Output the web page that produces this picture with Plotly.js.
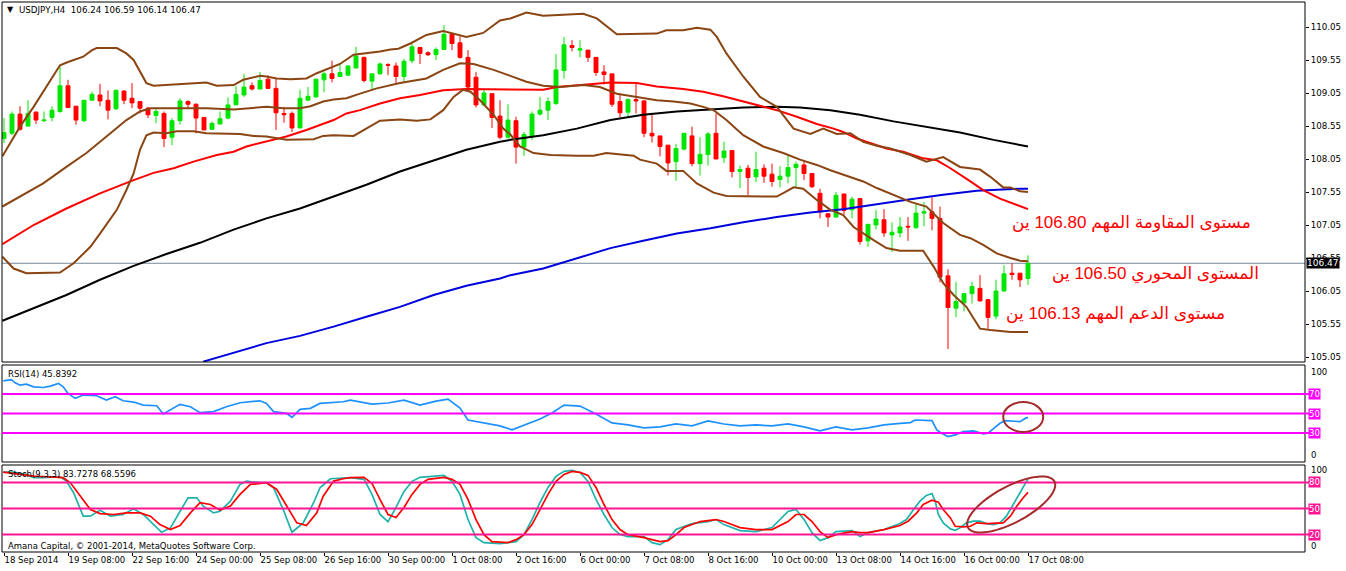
<!DOCTYPE html>
<html>
<head>
<meta charset="utf-8">
<script src="https://cdn.plot.ly/plotly-3.0.1.min.js"></script>
<style>
html,body{margin:0;padding:0;background:#fff;}
#chart{width:1346px;height:571px;}
</style>
</head>
<body>
<div id="chart"></div>
<script>
// ---------------- DATA ----------------
const xLabels = ['18 Sep 2014','19 Sep 08:00','22 Sep 16:00','24 Sep 00:00','25 Sep 08:00','26 Sep 16:00','30 Sep 00:00','1 Oct 08:00','2 Oct 16:00','6 Oct 00:00','7 Oct 08:00','8 Oct 16:00','10 Oct 00:00','13 Oct 08:00','14 Oct 16:00','16 Oct 00:00','17 Oct 08:00'];
const xLabelBars = [0,8,16,24,32,40,48,56,64,72,80,88,96,104,112,120,128];

const open = [108.36,108.44,108.73,108.55,108.76,108.63,108.68,108.77,109.16,108.85,108.63,108.94,109.02,108.94,108.81,109.08,108.97,108.92,108.82,108.71,
108.74,108.38,108.63,108.92,108.88,108.68,108.50,108.58,108.67,108.87,109.02,109.16,109.11,109.26,109.12,108.74,108.74,108.52,108.94,108.99,
109.25,109.34,109.30,109.32,109.43,109.59,109.23,109.34,109.48,109.46,109.30,109.54,109.74,109.66,109.63,109.71,109.94,109.81,109.59,109.29,
108.87,109.04,108.70,108.38,108.63,108.23,108.39,108.73,108.79,108.89,109.39,109.77,109.70,109.70,109.59,109.37,109.34,108.92,108.76,108.95,
108.93,108.44,108.40,108.26,108.01,108.20,108.40,107.98,108.12,108.44,108.07,108.18,107.86,107.91,107.78,107.91,107.82,107.74,107.79,107.92,
107.96,107.83,107.53,107.22,107.17,107.52,107.28,107.45,106.81,107.05,107.13,106.90,106.93,107.03,107.01,107.23,107.25,107.15,106.28,105.79,
105.87,106.01,106.09,105.92,105.67,106.05,106.32,106.32,106.24];
const high = [108.67,108.77,108.85,108.94,108.77,108.77,108.85,109.45,109.25,108.85,108.94,109.07,109.19,109.09,109.10,109.09,109.20,108.92,108.84,108.83,
108.77,108.67,108.97,108.94,108.89,108.68,108.62,108.77,108.98,109.16,109.34,109.21,109.37,109.32,109.27,108.84,108.77,109.10,109.14,109.26,
109.37,109.54,109.49,109.47,109.75,109.60,109.35,109.51,109.50,109.51,109.57,109.81,109.75,109.68,109.74,110.08,109.96,109.91,109.70,109.37,
109.10,109.04,108.94,108.88,108.69,108.46,108.77,108.99,108.98,109.64,109.90,109.85,109.85,109.70,109.59,109.47,109.34,109.04,108.97,109.19,
108.94,108.75,108.40,108.26,108.28,108.44,108.54,108.38,108.46,108.74,108.31,108.18,107.95,107.96,108.16,107.97,107.98,107.94,108.11,108.01,
108.01,107.83,107.60,107.23,107.55,107.52,107.48,107.45,107.06,107.28,107.29,107.09,107.17,107.17,107.38,107.40,107.47,107.33,106.38,106.19,
106.01,106.19,106.29,105.92,106.22,106.44,106.47,106.32,106.59];
const low = [108.29,108.41,108.48,108.54,108.58,108.61,108.62,108.75,108.82,108.57,108.61,108.94,108.85,108.65,108.79,108.88,108.82,108.74,108.67,108.59,
108.23,108.26,108.57,108.82,108.44,108.49,108.49,108.58,108.65,108.87,108.99,109.09,109.10,109.11,108.49,108.60,108.46,108.52,108.94,108.98,
109.06,109.21,109.30,109.31,109.42,109.21,109.11,109.33,109.32,109.20,109.22,109.50,109.49,109.61,109.55,109.70,109.70,109.57,109.11,108.83,
108.85,108.52,108.35,108.36,107.98,108.10,108.34,108.71,108.64,108.87,109.27,109.68,109.59,109.52,109.31,109.18,108.84,108.68,108.68,108.74,
108.38,108.30,108.09,107.80,107.72,108.18,107.94,107.80,107.95,108.05,107.99,107.77,107.61,107.50,107.70,107.69,107.63,107.62,107.68,107.62,
107.73,107.61,107.15,107.02,107.16,107.21,107.15,106.75,106.72,106.98,106.87,106.64,106.86,106.81,106.99,107.03,106.97,106.18,105.17,105.65,
105.74,105.86,105.89,105.48,105.62,106.04,106.22,106.11,106.14];
const close = [108.45,108.73,108.50,108.74,108.64,108.64,108.79,109.16,108.83,108.64,108.94,109.03,108.93,108.79,109.09,108.94,108.90,108.82,108.72,108.77,
108.36,108.63,108.93,108.88,108.67,108.49,108.59,108.66,108.87,109.03,109.14,109.11,109.24,109.12,108.75,108.72,108.52,108.97,109.00,109.26,
109.34,109.27,109.36,109.46,109.61,109.24,109.34,109.49,109.47,109.30,109.53,109.75,109.65,109.63,109.71,109.94,109.80,109.59,109.14,108.87,
109.05,108.68,108.38,108.64,108.23,108.42,108.73,108.79,108.92,109.40,109.78,109.74,109.72,109.59,109.36,109.33,108.88,108.75,108.95,108.93,
108.44,108.40,108.24,107.99,108.21,108.44,107.98,108.12,108.43,108.05,108.17,107.86,107.89,107.77,107.89,107.79,107.71,107.79,107.92,107.97,
107.83,107.63,107.25,107.17,107.50,107.27,107.44,106.80,107.06,107.14,106.93,106.94,107.02,107.02,107.23,107.25,107.15,106.26,105.80,105.89,
106.01,106.12,105.90,105.65,106.05,106.31,106.30,106.22,106.47];

// Bollinger bands [bar, price]
const bbUpper = [[-0.2,108.09],[2,108.54],[3.7,108.84],[5.8,109.25],[7,109.47],[8,109.52],[9.9,109.60],[11,109.70],[11.6,109.73],[14.1,109.73],[15.3,109.65],[16.2,109.55],[17.8,109.20],[18.7,109.16],[20.3,109.17],[22.4,109.19],[25.3,109.21],[26.6,109.16],[28.7,109.17],[29.9,109.25],[32,109.31],[32.8,109.30],[34.1,109.27],[35.8,109.26],[37.8,109.27],[39.1,109.35],[40.3,109.41],[42,109.49],[43.7,109.63],[45.3,109.65],[47,109.68],[48.3,109.71],[49.3,109.72],[50.8,109.80],[52.8,109.93],[54.9,109.99],[56.2,109.95],[57.8,109.90],[59.9,109.96],[62,110.15],[63.3,110.18],[65.3,110.27],[67.4,110.22],[69.9,110.24],[72.4,110.25],[74.1,110.18],[76.6,109.94],[81.6,109.95],[82.8,110.00],[84.9,110.00],[86.6,110.04],[88.3,110.01],[89.1,109.90],[90.3,109.65],[92.4,109.30],[94.5,108.99],[96.6,108.84],[98.7,108.51],[100.8,108.43],[102.4,108.51],[104.1,108.43],[105.8,108.44],[107.4,108.31],[109.1,108.25],[110.8,108.21],[113.3,108.11],[115.3,108.01],[117.4,108.08],[119.5,107.93],[122,107.89],[123.3,107.78],[124.9,107.62],[125.8,107.62],[127,107.56],[128,107.55]];
const bbMiddle = [[-0.2,107.33],[2,107.48],[4.9,107.68],[7.8,107.93],[10.3,108.14],[13.3,108.44],[15.3,108.64],[17,108.77],[18.3,108.82],[22.8,108.82],[25.3,108.82],[28.7,108.80],[31.2,108.83],[32.8,108.84],[34.9,108.82],[37,108.82],[38.3,108.85],[39.9,108.92],[41.2,108.95],[42.8,108.97],[44.5,109.04],[46.6,109.12],[49.5,109.20],[52.8,109.27],[54.9,109.40],[57,109.50],[58.7,109.49],[61.2,109.40],[63.3,109.31],[65.3,109.22],[67.4,109.16],[69.5,109.14],[72.4,109.17],[74.5,109.14],[76.6,109.04],[79.1,108.99],[81.6,108.94],[83.7,108.92],[85.8,108.89],[87.4,108.84],[88.7,108.79],[90.3,108.64],[92.4,108.41],[94.9,108.24],[97.4,108.14],[99.5,108.04],[101.6,107.96],[103.3,107.88],[104.9,107.81],[107.4,107.71],[109.1,107.61],[111.6,107.48],[113.3,107.40],[115.3,107.33],[117.4,107.08],[119.5,106.90],[120.8,106.85],[122.4,106.75],[124.1,106.62],[125.8,106.55],[127,106.51],[128,106.50]];
const bbLower = [[-0.2,106.57],[1.2,106.39],[2.8,106.32],[7,106.33],[8.7,106.47],[10.8,106.72],[12,106.92],[14.1,107.28],[15.3,107.58],[16.2,107.83],[17,108.19],[17.8,108.41],[18.7,108.45],[20.3,108.44],[21.6,108.47],[23.7,108.47],[25.3,108.44],[29.5,108.43],[31.2,108.40],[32.8,108.39],[35.3,108.34],[38.7,108.35],[39.9,108.40],[41.2,108.41],[43.7,108.40],[45.3,108.51],[47,108.63],[49.5,108.65],[51.6,108.63],[53.3,108.65],[54.9,108.79],[56.2,108.99],[57.4,109.10],[58.3,109.07],[59.5,108.94],[61.2,108.72],[62.4,108.51],[63.3,108.42],[64.5,108.24],[66.2,108.14],[68.3,108.11],[71.6,108.10],[73.7,108.10],[75.3,108.14],[78.7,108.10],[79.5,108.04],[81.6,107.98],[82.8,107.87],[84.9,107.87],[86.6,107.68],[88.7,107.54],[90.3,107.49],[93.7,107.49],[96.6,107.48],[97.8,107.56],[98.7,107.62],[99.9,107.60],[101.6,107.43],[103.3,107.28],[104.9,107.20],[106.2,107.02],[107.4,106.92],[108.7,106.82],[110.3,106.70],[112,106.66],[114.9,106.66],[116.2,106.42],[117.4,106.17],[118.7,105.99],[120.3,105.81],[122,105.48],[123.3,105.46],[125.8,105.43],[128,105.43]];
// Moving averages [bar, price]
const maRed = [[-0.2,106.76],[1.6,106.90],[3.7,107.05],[7.8,107.30],[12,107.53],[16.2,107.73],[18.7,107.84],[21.2,107.91],[23.7,108.01],[26.6,108.11],[28.7,108.16],[30.3,108.24],[32.8,108.31],[35.3,108.39],[37.8,108.49],[39.5,108.57],[41.2,108.64],[42.8,108.74],[44.5,108.79],[47,108.89],[49.5,108.97],[52,109.02],[54.9,109.09],[57.8,109.11],[60.3,109.11],[63.3,109.10],[67.4,109.10],[69.1,109.14],[71.6,109.17],[74.1,109.20],[75.8,109.21],[79.1,109.20],[81.6,109.15],[84.9,109.11],[87.4,109.07],[89.9,109.00],[92.4,108.92],[94.9,108.84],[96.6,108.79],[99.1,108.69],[101.6,108.58],[103.7,108.51],[104.9,108.46],[106.6,108.36],[108.3,108.29],[110.3,108.21],[112.4,108.16],[114.9,108.06],[116.6,108.03],[118.3,107.91],[120.8,107.71],[122.4,107.58],[124.5,107.45],[127,107.33],[128,107.29]];
const maBlack = [[-0.2,105.60],[3.7,105.79],[7.8,105.99],[12,106.22],[16.2,106.43],[20.3,106.61],[24.5,106.78],[28.7,106.98],[32.8,107.15],[37,107.30],[41.2,107.48],[45.3,107.66],[49.5,107.86],[53.7,108.03],[57.8,108.19],[62,108.31],[63.3,108.34],[67.4,108.41],[71.6,108.51],[75.8,108.64],[79.9,108.72],[84.1,108.77],[88.3,108.80],[92.4,108.83],[96.6,108.84],[99.5,108.83],[103.3,108.79],[107,108.72],[111.2,108.62],[115.3,108.54],[119.5,108.45],[123.7,108.34],[127,108.26],[128,108.24]];
const maBlue = [[24.9,104.98],[28.7,105.11],[32.8,105.26],[37,105.37],[41.2,105.51],[45.3,105.66],[49.5,105.81],[53.7,105.99],[57.8,106.13],[62,106.24],[63.3,106.29],[67.4,106.39],[71.6,106.54],[75.8,106.70],[79.9,106.81],[84.1,106.92],[88.3,107.00],[92.4,107.09],[96.6,107.17],[100.8,107.24],[104.9,107.29],[109.1,107.37],[113.3,107.44],[117.4,107.51],[121.6,107.57],[127,107.60],[128,107.60]];
// RSI(14) [bar, value]
const rsi = [[-0.1,83.6],[0.9,85.0],[1.4,81.6],[2,79.2],[2.8,80.3],[3.7,77.5],[4.9,76.8],[5.8,78.2],[6.8,81.0],[7.4,77.5],[8,70.7],[8.9,65.6],[9.9,69.0],[11.6,68.3],[12.8,63.8],[13.9,67.3],[14.9,63.1],[16.2,61.8],[17.4,58.7],[19.1,58.0],[19.9,49.5],[20.8,53.6],[22,59.4],[23.3,57.0],[24.5,50.8],[26.2,51.9],[27.8,57.0],[29.5,61.1],[31.2,62.5],[32,63.1],[32.8,60.4],[33.7,51.9],[35.3,50.2],[36,46.1],[37,54.3],[38.3,55.3],[39.5,60.4],[41.2,61.1],[42.4,62.1],[43.3,63.8],[44,62.8],[46,59.7],[48,60.8],[50,63.8],[52,58.7],[54,62.8],[55.5,64.9],[57,55.6],[58,43.3],[60,40.3],[62,37.2],[63.5,33.1],[65,38.2],[67,44.4],[68.5,50.5],[70,58.7],[72,57.7],[74,49.5],[76,40.3],[78,38.2],[80,35.1],[82,36.2],[84,39.2],[86,37.2],[88,42.3],[90,39.2],[92,37.2],[94,38.2],[96,37.2],[98,39.2],[100,36.2],[102,32.1],[104,36.2],[106,33.1],[108,35.1],[110,38.2],[112,39.9],[113.3,40.6],[113.9,43.3],[114.9,43.3],[116,42.6],[116.6,33.1],[117.2,29.7],[118,26.2],[118.9,27.9],[119.9,31.3],[121.2,32.1],[122.4,29.0],[123,29.7],[123.5,33.1],[124.5,39.9],[125.1,42.6],[126.2,41.6],[127,41.6],[127.8,45.7],[128,45.84]];
// Stochastic(9,3,3) main and signal [bar, value]
const stochMain = [[-0.1,91.9],[1.2,91.9],[2.8,89.2],[3.7,85.4],[4.9,85.4],[7,86.5],[7.8,81.5],[8.7,68.1],[9.9,41.2],[10.8,41.2],[12,48.1],[13.3,41.2],[14.9,43.1],[16.2,49.6],[17.4,43.1],[18.7,31.5],[19.7,22.7],[20.8,27.7],[22,46.9],[23,62.3],[24.1,62.3],[24.9,52.7],[26.2,45.0],[27,46.9],[28.3,58.4],[29.5,77.7],[30.3,81.5],[31.2,80.4],[32.8,79.6],[33.7,73.8],[34.9,48.8],[36,22.7],[37.4,33.5],[38.7,56.6],[39.5,73.8],[40.8,84.2],[43.3,85.4],[45,83.5],[46,66.2],[47,43.1],[48,35.0],[49,51.2],[50,69.6],[51,81.2],[52,85.8],[54,86.9],[55,88.1],[56,81.2],[57,66.2],[58,37.3],[59,16.5],[60,10.8],[62,9.6],[64,11.9],[65,20],[66,37.3],[67,56.9],[68,74.2],[69,86.9],[70,92.7],[71,93.8],[72,91.5],[73,81.2],[74,60.4],[75,43.1],[76,28.1],[77,20],[78,17.7],[80,17.7],[81,10.8],[82,8.5],[83,14.2],[84,25.8],[86,32.7],[88,35.0],[89,37.3],[90,31.5],[92,24.6],[94,23.5],[96,28.1],[98,46.6],[99,48.8],[100,37.3],[101,22.3],[102,13.1],[103,16.5],[104,23.5],[106,24.6],[107,17.7],[108,22.3],[110,25.8],[112,32.7],[112.8,37.3],[113.7,48.8],[114.5,58.4],[115.3,65.0],[116,67.3],[116.4,58.4],[116.8,43.1],[117.4,33.5],[118.3,26.6],[118.9,25.0],[119.5,27.7],[120.3,33.5],[121.2,35.4],[122,35.4],[122.8,32.7],[123.7,31.5],[124.5,33.5],[125.3,41.2],[126.2,54.6],[127,68.1],[127.6,77.7],[128,83.73]];
const stochSignal = [[-0.1,91.9],[2,89.2],[3.7,87.3],[5.3,86.5],[7.4,85.4],[8.3,79.6],[9.5,64.2],[10.8,48.8],[12,44.2],[13.7,43.1],[15.3,45.0],[17,45.0],[18.3,41.2],[19.5,31.5],[20.8,25.8],[22,30.4],[23.3,45.0],[24.5,56.6],[25.8,54.6],[27,48.1],[28.3,52.7],[29.5,66.2],[30.8,77.7],[32.8,79.6],[34.1,71.9],[35.3,52.7],[36.6,33.5],[37.8,30.4],[39.1,45.0],[39.9,64.2],[41.2,81.5],[42.4,84.2],[43.3,85.4],[45,85.8],[46,78.8],[47,60.4],[48,43.1],[49,39.6],[50,51.2],[51,66.2],[52,77.7],[53,83.5],[55,85.8],[56,83.5],[57,77.7],[58,60.4],[59,37.3],[60,20],[61,11.9],[63,10.8],[64,14.2],[65,20],[66,31.5],[67,48.8],[68,66.2],[69,81.2],[70,89.2],[71,92.7],[72,91.5],[73,88.1],[74,74.2],[75,54.6],[76,37.3],[77,25.8],[78,20],[80,16.5],[82,11.9],[83,13.1],[84,20],[85,28.1],[87,35.0],[89,37.3],[90,35.0],[92,28.1],[94,25.8],[96,25.8],[98,35.0],[99,43.1],[100,43.1],[101,35.0],[102,23.5],[103,16.5],[104,20],[106,23.5],[107,22.3],[108,22.3],[110,25.8],[112,30.4],[113,35.4],[114.1,45.0],[114.9,54.6],[116,59.6],[116.8,57.3],[117.4,48.8],[118.3,39.2],[118.9,29.6],[119.9,28.9],[120.8,29.6],[121.6,33.5],[122.8,32.7],[124.1,32.7],[124.9,33.5],[125.8,41.2],[126.6,52.7],[127.4,62.3],[127.8,67.3],[128,68.56]];

const rsiLevels = [70,50,30];
const stochLevels = [80,50,20];
const lastPrice = 106.47;
const headerText = 'USDJPY,H4\u00a0\u00a0106.24 106.59 106.14 106.47';
const rsiText = 'RSI(14) 45.8392';
const stochText = 'Stoch(9,3,3) 83.7278 68.5596';
const copyText = 'Amana Capital, \u00a9 2001-2014, MetaQuotes Software Corp.';
const arabicNotes = [
  {text:'مستوى المقاومة المهم 106.80 ين', px:1131, py:223},
  {text:'المستوى المحوري 106.50 ين', px:1155, py:274},
  {text:'مستوى الدعم المهم 106.13 ين', px:1115, py:314}
];

// ---------------- LAYOUT HELPERS ----------------
const L = 2, T = 2, W = 1303, H = 550;
const pX = px => (px - L) / W;
const pY = py => 1 - (py - T) / H;
const dMain = [pY(362), 1];
const dRsi = [pY(462), pY(365)];
const dSto = [0, pY(465)];
const FONT = 'DejaVu Sans';
const bull = '#00e600', bear = '#ff0000', brown = '#8b4513';

const barIdx = open.map((_, i) => i);
const line = (pairs, color, width, yaxis) => ({
  type: 'scatter', mode: 'lines', x: pairs.map(p => p[0]), y: pairs.map(p => p[1]),
  xaxis: 'x', yaxis: yaxis, line: {color: color, width: width}, hoverinfo: 'skip'
});

const traces = [
  {type: 'candlestick', x: barIdx, open: open, high: high, low: low, close: close,
   xaxis: 'x', yaxis: 'y', whiskerwidth: 0,
   increasing: {line: {color: bull, width: 1}, fillcolor: bull},
   decreasing: {line: {color: bear, width: 1}, fillcolor: bear}},
  line(maBlue, '#0000dd', 2, 'y'),
  line(maBlack, '#000000', 2, 'y'),
  line(maRed, '#ff0000', 2, 'y'),
  line(bbUpper, brown, 2, 'y'),
  line(bbMiddle, brown, 2, 'y'),
  line(bbLower, brown, 2, 'y'),
  line(rsi, '#1e90ff', 1.7, 'y2'),
  line(stochMain, '#20b2aa', 1.7, 'y3'),
  line(stochSignal, '#ff0000', 1.7, 'y3')
];

const shapes = [
  {type:'rect', xref:'paper', yref:'paper', x0:0, x1:1, y0:dMain[0], y1:dMain[1], line:{color:'#000', width:1}},
  {type:'rect', xref:'paper', yref:'paper', x0:0, x1:1, y0:dRsi[0], y1:dRsi[1], line:{color:'#000', width:1}},
  {type:'rect', xref:'paper', yref:'paper', x0:0, x1:1, y0:dSto[0], y1:dSto[1], line:{color:'#000', width:1}},
  {type:'line', xref:'paper', yref:'y', x0:0, x1:1, y0:lastPrice, y1:lastPrice, line:{color:'#778899', width:1}, layer:'below'}
];
rsiLevels.forEach(v => shapes.push({type:'line', xref:'paper', yref:'y2', x0:0, x1:pX(1309), y0:v, y1:v, line:{color:'#ff00ff', width:2}}));
stochLevels.forEach(v => shapes.push({type:'line', xref:'paper', yref:'y3', x0:0, x1:pX(1309), y0:v, y1:v, line:{color:'#ff1493', width:2}}));
// hand-drawn highlight ellipses
shapes.push({type:'circle', xref:'x', yref:'y2', x0:124.9, x1:129.9, y0:31, y1:61.8, line:{color:'#a52a2a', width:2}});
(function(){
  const cx = 125.9, cy = 54.6, a = 49, b = 18, ang = 28 * Math.PI / 180;
  let d = '';
  for (let k = 0; k <= 48; k++) {
    const t = 2 * Math.PI * k / 48;
    const ux = a * Math.cos(t), uy = b * Math.sin(t);
    const dx = ux * Math.cos(ang) + uy * Math.sin(ang);
    const dy = -ux * Math.sin(ang) + uy * Math.cos(ang);
    d += (k === 0 ? 'M' : 'L') + (cx + dx / 8).toFixed(3) + ',' + (cy - dy / 0.8667).toFixed(3);
  }
  shapes.push({type:'path', xref:'x', yref:'y3', path: d + 'Z', line:{color:'#a52a2a', width:2}});
})();

const ann = (text, px, py, opts) => Object.assign({
  text: text, xref:'paper', yref:'paper', x: pX(px), y: pY(py), xanchor:'left', yanchor:'middle',
  showarrow:false, font:{family:FONT, size:8.5, color:'#000'}
}, opts || {});

const annotations = [
  ann('\u25bc', 5, 10, {font:{family:FONT, size:8, color:'#000'}}),
  ann(headerText, 17, 10, {font:{family:FONT, size:8.7, color:'#000'}}),
  ann(rsiText, 6, 374),
  ann(stochText, 6, 474),
  ann(copyText, 6, 546),
  ann('100', 1309, 372), ann('0', 1309, 455),
  ann('100', 1309, 470), ann('0', 1309, 546),
  {text: String(lastPrice.toFixed(2)), xref:'paper', yref:'y', x: pX(1306), y: lastPrice, xanchor:'left', yanchor:'middle',
   showarrow:false, bgcolor:'#000', borderpad:0, font:{family:FONT, size:9, color:'#fff'}}
];
rsiLevels.forEach(v => annotations.push({text:String(v), xref:'paper', yref:'y2', x:pX(1308), y:v, xanchor:'left', yanchor:'middle',
  showarrow:false, bgcolor:'#ff00ff', borderpad:0, font:{family:FONT, size:8.5, color:'#fff'}}));
stochLevels.forEach(v => annotations.push({text:String(v), xref:'paper', yref:'y3', x:pX(1308), y:v, xanchor:'left', yanchor:'middle',
  showarrow:false, bgcolor:'#ff1493', borderpad:0, font:{family:FONT, size:8.5, color:'#fff'}}));
arabicNotes.forEach(n => annotations.push(ann(n.text, n.px, n.py, {xanchor:'center',
  font:{family:'Liberation Sans, DejaVu Sans', size:17, color:'#ff0000'}})));

const layout = {
  width: 1346, height: 571,
  margin: {l: L, r: 1346 - L - W, t: T, b: 571 - T - H, pad: 0},
  paper_bgcolor: '#fff', plot_bgcolor: '#fff',
  showlegend: false, hovermode: false,
  font: {family: FONT, size: 9, color: '#000'},
  xaxis: {
    domain: [0, 1], anchor: 'y3', range: [-0.25, (1305 - 4) / 8],
    rangeslider: {visible: false}, showgrid: false, zeroline: false, showline: false,
    tickmode: 'array', tickvals: xLabelBars, ticktext: xLabels, tickangle: 0, automargin: false,
    ticks: 'outside', ticklen: 3, tickcolor: '#000', ticklabelposition: 'outside right',
    tickfont: {family: FONT, size: 8.5, color: '#000'}
  },
  yaxis: {
    domain: dMain, anchor: 'x', side: 'right',
    range: [110.05 - 335 / 66, 110.05 + 25 / 66],
    showgrid: false, zeroline: false, showline: false,
    tick0: 105.05, dtick: 0.5, tickformat: '.2f',
    ticks: 'outside', ticklen: 3, tickcolor: '#000',
    tickfont: {family: FONT, size: 8.7, color: '#000'}
  },
  yaxis2: {domain: dRsi, anchor: 'x', range: [0, 100], showgrid: false, zeroline: false, showticklabels: false, ticks: ''},
  yaxis3: {domain: dSto, anchor: 'x', range: [0, 100], showgrid: false, zeroline: false, showticklabels: false, ticks: ''},
  shapes: shapes,
  annotations: annotations
};

Plotly.newPlot('chart', traces, layout, {staticPlot: true, displayModeBar: false});
</script>
</body>
</html>
